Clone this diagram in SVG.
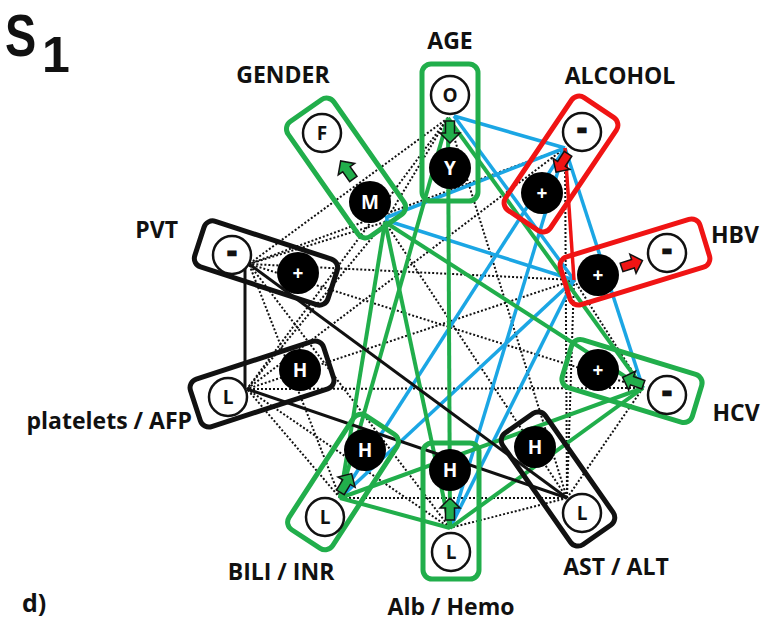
<svg xmlns="http://www.w3.org/2000/svg" xmlns:xlink="http://www.w3.org/1999/xlink" width="770" height="629" viewBox="0 0 770 629">
<defs>
<style>
.lbl{font-family:"Open Sans","Liberation Sans",sans-serif;font-weight:700;font-size:23px;fill:#111}
.dot{stroke:#111;stroke-width:2;stroke-dasharray:2 2;fill:none}
.g{stroke:#21AE4B;stroke-width:4;fill:none}
.b{stroke:#1BA6E4;stroke-width:3.5;fill:none}
.k{stroke:#111;stroke-width:3;fill:none}
.r{stroke:#F01414;stroke-width:3.5;fill:none}
.boxg{fill:none;stroke:#21AE4B;stroke-width:5}
.boxr{fill:none;stroke:#F01414;stroke-width:5}
.boxk{fill:none;stroke:#111;stroke-width:5}
.wc{fill:#fff;stroke:#111;stroke-width:2.5}
.bc{fill:#000}
.wt{font-family:"Open Sans","Liberation Sans",sans-serif;font-weight:700;font-size:19px;fill:#111;text-anchor:middle}
.bt{font-family:"Open Sans","Liberation Sans",sans-serif;font-weight:700;font-size:19px;fill:#fff;text-anchor:middle}
.dash{font-family:"Open Sans","Liberation Sans",sans-serif;font-weight:700;font-size:26px;fill:#111;stroke:#111;stroke-width:2.5;text-anchor:middle}
.ag{fill:#21AE4B;stroke:#111;stroke-width:1.5}
.ar{fill:#F01414;stroke:#111;stroke-width:1.5}
.big{font-family:"Liberation Sans",Arial,sans-serif;font-weight:700;fill:#111}
</style>
<path id="arr" d="M-11,-4.5 L1,-4.5 L1,-10 L11,0 L1,10 L1,4.5 L-11,4.5 Z"/>
</defs>
<rect width="770" height="629" fill="#fff"/>

<g id="connectors">
<g id="dotted">
<line class="dot" x1="448" y1="118" x2="385" y2="222"/>
<line class="dot" x1="448" y1="118" x2="567" y2="498"/>
<line class="dot" x1="448" y1="118" x2="249" y2="264"/>
<line class="dot" x1="448" y1="118" x2="247" y2="389"/>
<line class="dot" x1="385" y1="222" x2="567" y2="498"/>
<line class="dot" x1="385" y1="222" x2="247" y2="389"/>
<line class="dot" x1="385" y1="222" x2="249" y2="264"/>
<line class="dot" x1="565" y1="148" x2="567" y2="498"/>
<line class="dot" x1="565" y1="148" x2="247" y2="389"/>
<line class="dot" x1="565" y1="148" x2="249" y2="264"/>
<line class="dot" x1="574" y1="280" x2="643" y2="388"/>
<line class="dot" x1="574" y1="280" x2="567" y2="498"/>
<line class="dot" x1="574" y1="280" x2="247" y2="389"/>
<line class="dot" x1="574" y1="280" x2="249" y2="264"/>
<line class="dot" x1="643" y1="388" x2="567" y2="498"/>
<line class="dot" x1="643" y1="388" x2="247" y2="389"/>
<line class="dot" x1="643" y1="388" x2="249" y2="264"/>
<line class="dot" x1="567" y1="498" x2="450" y2="528"/>
<line class="dot" x1="567" y1="498" x2="340" y2="498"/>
<line class="dot" x1="450" y1="528" x2="247" y2="389"/>
<line class="dot" x1="450" y1="528" x2="249" y2="264"/>
<line class="dot" x1="340" y1="498" x2="247" y2="389"/>
<line class="dot" x1="340" y1="498" x2="249" y2="264"/>
</g>
<g id="blue">
<line class="b" x1="454" y1="116" x2="565" y2="148"/>
<line class="b" x1="454" y1="116" x2="574" y2="280"/>
<line class="b" x1="385" y1="218" x2="565" y2="148"/>
<line class="b" x1="385" y1="220" x2="574" y2="280"/>
<line class="b" x1="565" y1="148" x2="643" y2="388"/>
<line class="b" x1="565" y1="148" x2="340" y2="498"/>
<line class="b" x1="565" y1="148" x2="450" y2="528"/>
<line class="b" x1="574" y1="280" x2="340" y2="498"/>
<line class="b" x1="574" y1="280" x2="450" y2="528"/>
</g>
<g id="green">
<line class="g" x1="448" y1="118" x2="450" y2="528"/>
<line class="g" x1="448" y1="118" x2="340" y2="498"/>
<line class="g" x1="448" y1="118" x2="643" y2="388"/>
<line class="g" x1="385" y1="222" x2="340" y2="498"/>
<line class="g" x1="385" y1="222" x2="450" y2="528"/>
<line class="g" x1="385" y1="222" x2="643" y2="388"/>
<line class="g" x1="340" y1="498" x2="643" y2="388"/>
<line class="g" x1="450" y1="528" x2="643" y2="388"/>
<line class="g" x1="340" y1="498" x2="450" y2="528"/>
</g>
<g id="black">
<line class="k" x1="245" y1="264" x2="245" y2="389"/>
<line class="k" x1="249" y1="264" x2="567" y2="498"/>
<line class="k" x1="247" y1="389" x2="567" y2="498"/>
</g>
<line id="red" class="r" x1="565" y1="148" x2="574" y2="280"/>
</g>

<g id="title">
<text class="big" font-size="60" transform="translate(5,56) scale(0.78,1)">S</text>
<text class="big" x="42" y="72" font-size="50">1</text>
</g>

<g id="age">
<rect class="boxg" x="422" y="64" width="56" height="137" rx="9"/>
<circle class="wc" cx="450" cy="95" r="19"/>
<text class="wt" x="450" y="102">O</text>
<circle class="bc" cx="450" cy="168" r="21"/>
<text class="bt" x="450" y="175">Y</text>
<use xlink:href="#arr" class="ag" transform="translate(450,132) rotate(90)"/>
<text class="lbl" x="450" y="49" text-anchor="middle">AGE</text>
</g>

<g id="gender">
<rect class="boxg" x="-70" y="-28" width="140" height="56" rx="9" transform="translate(346,168) rotate(55)"/>
<circle class="wc" cx="322" cy="133" r="19"/>
<text class="wt" x="322" y="140">F</text>
<circle class="bc" cx="370" cy="202" r="21"/>
<text class="bt" x="370" y="209">M</text>
<use xlink:href="#arr" class="ag" transform="translate(347,170) rotate(-125)"/>
<text class="lbl" x="283" y="83" text-anchor="middle">GENDER</text>
</g>

<g id="alcohol">
<rect class="boxr" x="-68" y="-27" width="136" height="54" rx="9" transform="translate(561,164) rotate(-56)"/>
<circle class="wc" cx="582" cy="132" r="19"/>
<text class="dash" x="582" y="138">-</text>
<circle class="bc" cx="542" cy="193" r="21"/>
<text class="bt" x="542" y="199.5">+</text>
<use xlink:href="#arr" class="ar" transform="translate(562,163) rotate(123)"/>
<text class="lbl" x="620" y="84" text-anchor="middle">ALCOHOL</text>
</g>

<g id="hbv">
<rect class="boxr" x="-73" y="-25" width="146" height="50" rx="9" transform="translate(635,262) rotate(-17)"/>
<circle class="bc" cx="598" cy="275" r="21"/>
<text class="bt" x="598" y="281.5">+</text>
<circle class="wc" cx="667" cy="253" r="19"/>
<text class="dash" x="667" y="259">-</text>
<use xlink:href="#arr" class="ar" transform="translate(632,264) rotate(-18)"/>
<text class="lbl" x="735" y="243" text-anchor="middle">HBV</text>
</g>

<g id="pvt">
<rect class="boxk" x="-70" y="-24" width="140" height="48" rx="9" transform="translate(266,263) rotate(18)"/>
<circle class="wc" cx="232" cy="255" r="19"/>
<text class="dash" x="232" y="261">-</text>
<circle class="bc" cx="298" cy="273" r="21"/>
<text class="bt" x="298" y="279.5">+</text>
<text class="lbl" x="178" y="238" text-anchor="end">PVT</text>
</g>

<g id="platelets">
<rect class="boxk" x="-70" y="-25" width="140" height="50" rx="9" transform="translate(262,384) rotate(-18)"/>
<circle class="wc" cx="228" cy="397" r="19"/>
<text class="wt" x="228" y="404">L</text>
<circle class="bc" cx="300" cy="370" r="21"/>
<text class="bt" x="300" y="377">H</text>
<text class="lbl" x="192" y="429" text-anchor="end">platelets / AFP</text>
</g>

<g id="hcv">
<rect class="boxg" x="-68" y="-25" width="136" height="50" rx="9" transform="translate(632,381) rotate(17)"/>
<circle class="bc" cx="598" cy="370" r="21"/>
<text class="bt" x="598" y="376.5">+</text>
<circle class="wc" cx="667" cy="395" r="19"/>
<text class="dash" x="667" y="401">-</text>
<use xlink:href="#arr" class="ag" transform="translate(633,381) rotate(200)"/>
<text class="lbl" x="736" y="421" text-anchor="middle">HCV</text>
</g>

<g id="ast">
<rect class="boxk" x="-68" y="-26" width="136" height="52" rx="9" transform="translate(558,479) rotate(55)"/>
<circle class="bc" cx="535" cy="447" r="21"/>
<text class="bt" x="535" y="454">H</text>
<circle class="wc" cx="582" cy="513" r="19"/>
<text class="wt" x="582" y="520">L</text>
<text class="lbl" x="616" y="575" text-anchor="middle">AST / ALT</text>
</g>

<g id="alb">
<rect class="boxg" x="423" y="443" width="56" height="136" rx="9"/>
<circle class="bc" cx="450" cy="470" r="21"/>
<text class="bt" x="450" y="477">H</text>
<circle class="wc" cx="451" cy="552" r="19"/>
<text class="wt" x="451" y="559">L</text>
<use xlink:href="#arr" class="ag" transform="translate(450,509) rotate(-90)"/>
<text class="lbl" x="451" y="615" text-anchor="middle">Alb / Hemo</text>
</g>

<g id="bili">
<rect class="boxg" x="-68" y="-26" width="136" height="52" rx="9" transform="translate(343,482) rotate(-57)"/>
<circle class="bc" cx="365" cy="450" r="21"/>
<text class="bt" x="365" y="457">H</text>
<circle class="wc" cx="325" cy="517" r="19"/>
<text class="wt" x="325" y="524">L</text>
<use xlink:href="#arr" class="ag" transform="translate(346,483) rotate(-59)"/>
<text class="lbl" x="281" y="580" text-anchor="middle">BILI / INR</text>
</g>

<text class="lbl" x="22" y="612" style="font-size:25px">d)</text>
</svg>
